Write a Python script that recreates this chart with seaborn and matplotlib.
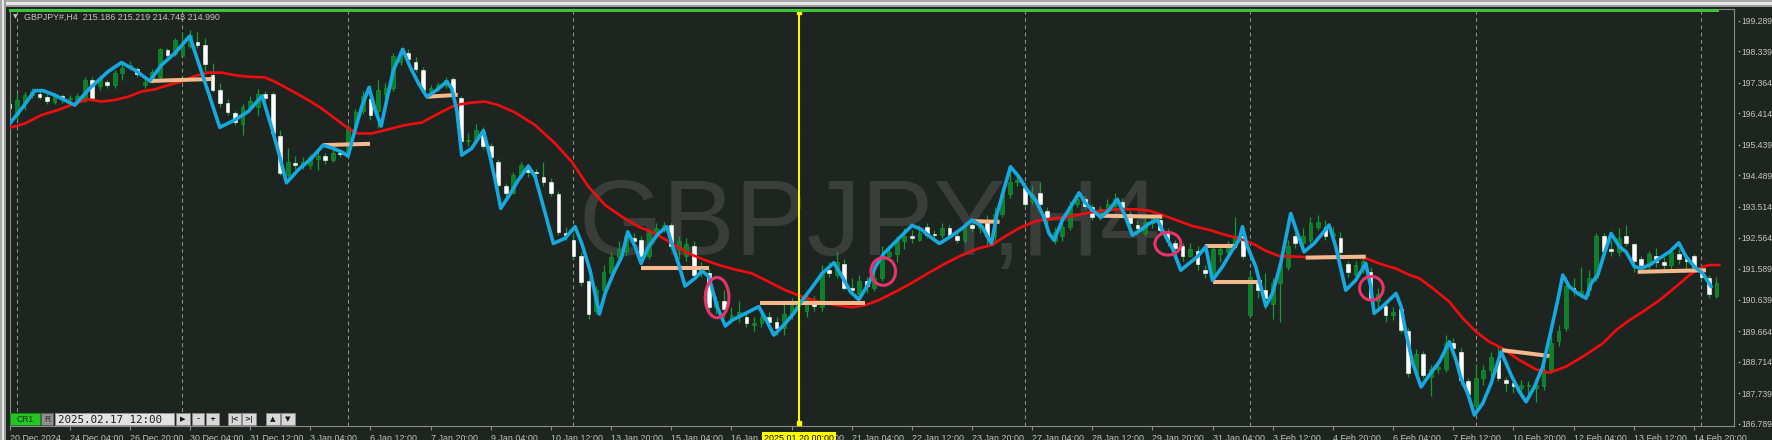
import numpy as np
import matplotlib
matplotlib.use("Agg")
import matplotlib.pyplot as plt
import matplotlib.transforms as mtransforms
from matplotlib.patches import Ellipse, Rectangle
import seaborn as sns

# ---------------- data ----------------
open_ = [196.70, 196.36, 196.75, 196.98, 197.00, 196.92, 196.78, 196.95, 196.85, 196.80,
         196.83, 197.45, 197.25, 197.38, 197.28, 197.66, 197.85, 197.78, 197.30, 197.45,
         197.55, 198.38, 198.25, 198.20, 198.50, 198.62, 198.52, 197.60, 197.14, 196.75,
         196.42, 196.10, 196.60, 196.62, 197.00, 197.00, 195.70, 194.50, 194.87, 194.82,
         194.80, 195.00, 195.10, 194.97, 195.20, 195.22, 196.00, 196.50, 196.85, 196.50,
         197.00, 197.20, 198.00, 198.30, 198.00, 197.75, 197.10, 197.20, 197.28, 197.48,
         196.88, 195.55, 195.60, 195.85, 195.40, 194.90, 194.15, 193.95, 194.50, 194.75,
         194.60, 194.45, 194.30, 193.90, 192.70, 192.50, 192.00, 191.20, 190.30, 190.95,
         191.45, 191.95, 192.15, 192.55, 192.50, 192.00, 192.70, 192.85, 192.95, 192.20,
         192.00, 192.30, 191.50, 191.45, 190.40, 190.60, 190.00, 190.15, 190.10, 189.85,
         189.90, 190.10, 189.95, 189.75, 190.20, 190.55, 190.30, 190.60, 190.40, 191.55,
         191.40, 191.75, 191.00, 190.80, 191.20, 191.00, 191.30, 192.00, 192.05, 192.45,
         192.62, 192.50, 192.90, 192.68, 192.65, 192.85, 192.60, 192.50, 192.95, 192.85,
         193.00, 192.60, 193.30, 193.90, 194.30, 194.10, 193.70, 193.95, 193.40, 192.45,
         192.60, 192.90, 193.60, 193.75, 193.50, 193.20, 193.40, 193.55, 193.65, 193.30,
         192.95, 192.70, 193.00, 193.10, 192.75, 192.40, 192.30, 192.00, 192.15, 191.55,
         191.30, 192.05, 192.10, 192.30, 192.60, 190.15, 191.20, 190.95, 190.50, 191.15,
         191.65, 192.60, 192.40, 192.50, 192.90, 192.90, 192.60, 192.55, 191.75, 191.40,
         191.60, 191.50, 190.60, 190.45, 190.15, 190.35, 189.65, 188.35, 188.95, 188.25,
         188.50, 188.50, 189.30, 189.00, 188.10, 187.35, 188.20, 188.45, 188.75, 188.15,
         188.05, 187.90, 187.95, 187.90, 187.95, 188.45, 189.35, 189.75, 191.00, 190.80,
         190.95, 191.30, 192.60, 192.20, 192.10, 192.60, 192.35, 191.90, 191.70, 192.00,
         191.80, 191.70, 192.05, 191.90, 192.00, 191.60, 191.30, 190.75]
high = [196.85, 197.05, 197.09, 197.20, 197.10, 197.00, 197.05, 197.00, 196.98, 197.05,
        197.55, 197.55, 197.60, 197.45, 197.75, 198.02, 198.05, 197.85, 197.50, 197.80,
        198.45, 198.45, 198.75, 198.95, 199.00, 198.95, 198.75, 197.97, 197.35, 196.85,
        196.50, 196.72, 196.95, 197.18, 197.10, 197.07, 195.90, 195.33, 195.10, 195.05,
        195.15, 195.25, 195.20, 195.35, 195.30, 196.10, 196.55, 197.10, 197.30, 197.45,
        197.35, 198.30, 198.45, 198.40, 198.15, 197.85, 197.30, 197.40, 197.55, 197.55,
        196.95, 195.80, 196.10, 196.00, 195.50, 195.00, 194.25, 194.60, 194.90, 194.85,
        194.70, 194.90, 194.40, 194.00, 192.90, 192.70, 192.10, 191.30, 191.05, 191.70,
        192.10, 192.45, 192.75, 192.70, 192.60, 192.80, 193.00, 193.05, 193.00, 192.60,
        192.55, 192.45, 191.80, 191.60, 190.75, 190.95, 190.40, 190.60, 190.20, 190.10,
        190.20, 190.25, 190.10, 190.50, 190.70, 190.75, 190.85, 190.75, 191.70, 191.80,
        192.10, 191.90, 191.30, 191.40, 191.35, 191.55, 192.30, 192.30, 192.60, 192.85,
        192.80, 192.95, 193.00, 192.80, 193.00, 192.95, 192.75, 193.05, 193.05, 193.15,
        193.25, 193.50, 194.10, 194.75, 194.60, 194.30, 194.20, 194.30, 193.50, 192.90,
        193.05, 193.70, 193.95, 193.85, 193.60, 193.55, 193.75, 193.95, 193.80, 193.40,
        193.10, 193.20, 193.30, 193.20, 192.85, 192.50, 192.40, 192.40, 192.30, 191.70,
        192.30, 192.35, 192.45, 193.20, 192.95, 191.50, 191.35, 191.45, 191.30, 191.85,
        192.50, 192.70, 192.85, 193.20, 193.25, 193.10, 192.90, 192.75, 191.85, 191.85,
        191.95, 191.65, 191.00, 190.60, 190.40, 190.45, 189.75, 189.10, 189.05, 188.60,
        188.65, 189.55, 189.45, 189.15, 188.20, 188.65, 188.60, 189.00, 189.20, 188.25,
        188.15, 188.15, 188.10, 188.25, 188.75, 189.50, 189.85, 191.35, 191.30, 191.65,
        191.55, 192.70, 192.70, 192.50, 192.85, 192.95, 192.40, 192.00, 192.15, 192.25,
        191.95, 192.20, 192.20, 192.00, 192.05, 191.70, 191.40, 191.35]
low = [196.50, 196.20, 196.52, 196.90, 196.85, 196.70, 196.70, 196.75, 196.75, 196.72,
       196.78, 196.85, 197.15, 197.20, 197.20, 197.45, 197.75, 197.55, 197.20, 197.35,
       197.45, 198.15, 198.20, 198.18, 198.45, 198.45, 197.65, 197.08, 196.60, 196.35,
       196.05, 195.75, 196.50, 196.37, 196.80, 195.75, 194.50, 194.45, 194.70, 194.70,
       194.70, 194.65, 194.85, 194.90, 195.05, 195.15, 195.90, 196.40, 196.20, 195.95,
       196.90, 197.10, 197.90, 197.95, 197.70, 197.05, 197.00, 197.10, 197.20, 196.95,
       195.45, 195.40, 195.50, 195.30, 194.95, 194.10, 193.80, 193.90, 194.40, 194.45,
       194.35, 194.15, 193.85, 192.65, 192.50, 191.90, 191.05, 190.05, 190.20, 190.85,
       191.35, 191.85, 192.00, 192.30, 191.90, 191.90, 192.60, 192.75, 192.20, 191.90,
       191.85, 191.30, 191.35, 190.30, 190.20, 190.10, 189.90, 189.95, 189.80, 189.65,
       189.80, 189.85, 189.55, 189.55, 190.05, 190.30, 190.10, 190.30, 190.30, 191.35,
       191.30, 190.95, 190.80, 190.70, 190.85, 190.90, 191.20, 191.85, 191.80, 192.20,
       192.40, 192.45, 192.55, 192.50, 192.55, 192.55, 192.40, 192.40, 192.75, 192.70,
       192.30, 192.45, 193.20, 193.80, 194.15, 193.50, 193.60, 193.45, 192.90, 192.35,
       192.45, 192.80, 193.50, 193.45, 193.10, 193.10, 193.30, 193.45, 193.40, 192.90,
       192.65, 192.60, 192.85, 192.65, 192.30, 192.00, 191.85, 191.95, 191.55, 191.30,
       191.20, 191.80, 192.00, 192.20, 191.90, 190.10, 190.70, 190.35, 190.05, 189.95,
       191.55, 192.25, 192.30, 192.40, 192.80, 192.50, 192.45, 191.95, 191.35, 191.25,
       191.45, 190.50, 190.40, 189.95, 190.00, 189.60, 188.25, 188.20, 188.20, 187.65,
       188.35, 188.40, 188.90, 188.00, 187.50, 187.10, 188.00, 188.25, 188.10, 187.80,
       187.75, 187.75, 187.70, 187.45, 187.85, 188.35, 189.20, 189.65, 190.75, 190.70,
       190.75, 191.20, 192.00, 192.00, 192.00, 192.30, 191.50, 191.55, 191.60, 191.65,
       191.55, 191.55, 191.75, 191.60, 191.50, 191.20, 190.70, 190.70]
close = [196.58, 196.83, 196.98, 197.10, 196.92, 196.80, 196.98, 196.85, 196.90, 196.95,
         197.45, 196.90, 197.50, 197.28, 197.68, 197.81, 197.90, 197.65, 197.40, 197.70,
         198.40, 198.22, 198.68, 198.50, 198.85, 198.55, 197.96, 197.14, 196.73, 196.47,
         196.16, 196.62, 196.80, 197.03, 196.90, 195.80, 194.55, 194.90, 194.82, 194.92,
         195.05, 195.10, 194.98, 195.20, 195.15, 196.00, 196.45, 196.95, 196.35, 197.15,
         197.20, 198.20, 198.35, 198.10, 197.80, 197.15, 197.20, 197.30, 197.45, 197.05,
         195.55, 195.60, 195.90, 195.40, 195.05, 194.20, 193.95, 194.50, 194.80, 194.60,
         194.55, 194.30, 193.95, 192.75, 192.65, 192.00, 191.18, 190.20, 190.95, 191.50,
         191.95, 192.20, 192.60, 192.45, 192.00, 192.70, 192.85, 192.95, 192.30, 192.45,
         192.35, 191.40, 191.60, 190.42, 190.60, 190.35, 190.15, 190.25, 189.90, 189.90,
         190.10, 189.95, 189.75, 190.20, 190.55, 190.60, 190.70, 190.45, 191.50, 191.45,
         191.80, 191.00, 190.95, 191.20, 191.05, 191.30, 192.00, 192.10, 192.50, 192.60,
         192.55, 192.70, 192.65, 192.65, 192.85, 192.65, 192.50, 192.90, 192.85, 193.00,
         192.62, 193.30, 193.90, 194.30, 194.35, 193.60, 193.90, 193.60, 193.20, 192.75,
         192.90, 193.55, 193.75, 193.55, 193.20, 193.45, 193.60, 193.75, 193.50, 193.00,
         192.85, 193.05, 193.20, 192.80, 192.45, 192.25, 192.00, 192.20, 191.75, 191.45,
         192.20, 192.20, 192.30, 192.60, 192.00, 191.35, 190.95, 190.70, 191.15, 191.70,
         192.30, 192.40, 192.60, 193.00, 193.05, 192.60, 192.70, 192.10, 191.50, 191.70,
         191.85, 190.65, 190.80, 190.15, 190.25, 189.70, 188.35, 188.95, 188.30, 188.50,
         188.55, 189.30, 189.15, 188.15, 187.70, 188.20, 188.45, 188.85, 188.20, 188.05,
         187.95, 188.00, 187.97, 188.00, 188.45, 189.30, 189.65, 191.05, 190.95, 190.90,
         191.30, 192.60, 192.15, 192.15, 192.55, 192.40, 191.85, 191.70, 192.05, 191.80,
         191.70, 192.10, 191.90, 191.85, 191.65, 191.35, 190.80, 191.15]

# blue line (vertex bar positions / prices)
blue_x = [0.04, 1.81, 3.36, 4.47, 6.02, 7.13, 8.68, 10.67, 13.11, 14.88, 16.66, 18.65, 20.2, 21.98,
          23.97, 25.3, 26.63, 27.96, 29.96, 31.73, 33.59, 34.83, 35.94, 36.83, 38.38, 40.15, 41.7,
          43.03, 44.14, 45.03, 45.7, 46.84, 47.82, 48.62, 49.42, 50.17, 51.06, 52.3, 53.27, 54.38,
          55.49, 56.82, 58.15, 58.81, 59.48, 60.14, 61.47, 63.02, 63.91, 64.58, 65.33, 66.35, 67.68,
          69.0, 69.9, 71.0, 72.33, 73.88, 75.21, 76.1, 77.2, 78.45, 79.2, 80.31, 81.42, 82.22, 83.2,
          83.99, 84.97, 86.3, 87.4, 88.07, 88.95, 89.84, 91.17, 92.1, 92.99, 94.1, 95.2, 96.09, 97.87,
          99.64, 100.75, 101.64, 102.97, 104.3, 105.41, 106.51, 108.07, 109.62, 110.73, 111.84,
          112.94, 114.27, 115.16, 116.27, 117.6, 118.93, 120.03, 121.36, 122.69, 123.67, 125.13,
          126.68, 128.01, 129.34, 130.58, 131.34, 132.22, 133.11, 134.22, 135.33, 136.43, 137.54,
          138.24, 138.91, 140.02, 141.13, 142.24, 143.12, 144.01, 145.12, 146.23, 147.33, 148.22,
          149.33, 150.44, 151.55, 152.65, 153.54, 154.65, 155.76, 156.87, 157.97, 159.08, 159.97,
          161.3, 162.63, 163.52, 163.96, 164.62, 165.73, 167.06, 167.95, 169.05, 170.38, 171.27,
          172.16, 173.49, 174.6, 175.48, 176.37, 177.7, 179.03, 180.36, 181.03, 181.47, 182.8,
          184.39, 185.06, 185.72, 186.61, 187.72, 188.82, 190.15, 191.48, 192.37, 193.03, 193.92,
          194.81, 195.92, 197.03, 198.36, 199.69, 200.8, 201.68, 202.79, 203.9, 205.01, 205.89,
          206.56, 207.44, 208.55, 209.66, 210.33, 211.21, 212.1, 212.99, 214.09, 214.98, 216.09,
          216.98, 218.09, 219.42, 220.75, 221.99, 222.96, 224.07, 225.18, 226.29]
blue_y = [196.10, 196.62, 197.12, 197.12, 196.98, 196.85, 196.67, 197.19, 197.71, 197.99, 197.76,
          197.42, 197.91, 198.28, 198.81, 197.86, 196.93, 195.98, 196.21, 196.47, 196.95, 196.00,
          195.07, 194.26, 194.66, 195.02, 195.43, 195.33, 195.22, 195.09, 195.69, 196.62, 197.22,
          196.52, 196.02, 196.83, 197.76, 198.40, 197.86, 197.35, 196.93, 197.14, 197.40, 197.19,
          196.52, 195.12, 195.33, 195.88, 195.07, 194.35, 193.47, 193.83, 194.35, 194.78, 194.45,
          193.52, 192.38, 192.54, 192.90, 192.38, 191.55, 190.19, 190.83, 191.45, 191.97, 192.74,
          192.28, 191.76, 192.28, 192.69, 192.90, 192.38, 191.76, 191.06, 191.30, 191.53, 191.35,
          190.42, 189.82, 190.00, 190.21, 190.42, 189.95, 189.54, 189.85, 190.21, 190.62, 190.95,
          191.45, 191.78, 191.35, 190.88, 190.64, 191.14, 191.66, 192.07, 192.38, 192.69, 192.94,
          192.80, 192.54, 192.38, 192.59, 192.85, 193.11, 192.90, 192.38, 193.31, 194.04, 194.76,
          194.45, 194.04, 193.73, 193.21, 192.69, 192.48, 193.11, 193.52, 193.95, 193.62, 193.42,
          193.19, 193.42, 193.75, 193.31, 192.64, 192.80, 193.00, 193.11, 192.69, 192.23, 191.55,
          191.76, 191.97, 192.28, 191.24, 191.66, 192.18, 192.49, 192.90, 192.28, 191.66, 190.44,
          190.83, 191.76, 193.31, 192.69, 192.12, 192.38, 192.69, 192.95, 192.28, 190.93, 191.24,
          191.76, 191.04, 190.21, 190.47, 190.83, 190.42, 189.59, 188.66, 187.93, 188.30, 188.71,
          189.33, 188.76, 188.19, 187.73, 187.06, 187.42, 188.04, 189.02, 188.30, 187.78, 187.47,
          187.93, 188.56, 189.69, 190.62, 191.40, 191.04, 190.83, 190.68, 191.14, 191.40, 192.07,
          192.69, 192.28, 192.12, 191.66, 191.61, 191.71, 191.92, 192.12, 192.40, 191.97, 191.66,
          191.45, 191.04]

# red moving average line
red_x = [-0.19, 2.03, 4.25, 6.46, 8.68, 10.45, 12.23, 14.0, 15.77, 17.54, 19.32, 21.09, 22.86,
         24.64, 26.41, 28.18, 29.96, 31.73, 33.95, 35.27, 37.49, 39.71, 41.48, 43.26, 45.03, 46.36,
         48.18, 50.39, 52.61, 54.83, 57.04, 59.26, 61.47, 63.25, 65.02, 67.24, 69.9, 72.56, 74.78,
         76.99, 79.21, 81.43, 83.65, 85.86, 88.08, 90.3, 92.3, 94.32, 96.53, 98.75, 100.97, 103.18,
         105.4, 107.61, 109.83, 112.05, 113.82, 115.59, 117.81, 120.03, 122.24, 124.46, 126.68,
         128.89, 130.67, 132.0, 134.22, 136.43, 138.65, 140.91, 143.13, 145.34, 147.56, 149.78,
         151.55, 153.33, 155.1, 157.32, 159.53, 161.75, 163.52, 165.3, 167.07, 168.84, 171.06,
         173.28, 175.94, 178.16, 180.37, 182.15, 183.48, 184.39, 186.16, 187.49, 189.26, 191.48,
         193.26, 195.03, 196.8, 198.58, 200.8, 203.01, 204.78, 207.0, 209.22, 211.88, 213.65,
         215.42, 217.2, 219.42, 221.63, 223.41, 225.18, 226.07, 227.4]
red_y = [195.95, 196.10, 196.36, 196.52, 196.72, 196.85, 196.78, 196.83, 196.93, 197.09, 197.16,
         197.29, 197.40, 197.57, 197.68, 197.68, 197.60, 197.55, 197.53, 197.40, 197.12, 196.83,
         196.57, 196.26, 195.95, 195.79, 195.79, 195.92, 196.05, 196.13, 196.41, 196.67, 196.75,
         196.78, 196.67, 196.44, 196.05, 195.48, 194.91, 194.14, 193.57, 193.21, 192.90, 192.69,
         192.38, 192.07, 191.88, 191.71, 191.57, 191.45, 191.19, 190.93, 190.73, 190.57, 190.47,
         190.40, 190.47, 190.62, 190.88, 191.16, 191.47, 191.76, 192.02, 192.23, 192.33, 192.54,
         192.85, 193.07, 193.15, 193.21, 193.31, 193.40, 193.44, 193.44, 193.40, 193.26, 193.11,
         192.92, 192.80, 192.64, 192.54, 192.38, 192.15, 191.99, 191.97, 191.95, 191.97, 191.97,
         191.92, 191.76, 191.66, 191.60, 191.40, 191.30, 190.99, 190.57, 190.06, 189.64, 189.33,
         189.12, 188.76, 188.47, 188.37, 188.56, 188.87, 189.28, 189.69, 190.00, 190.26, 190.62,
         191.04, 191.40, 191.66, 191.71, 191.71]

# horizontal level segments (start bar, end bar, start price, end price)
level_x0 = [18.65, 41.7, 55.49, 83.99, 99.86, 128.11, 145.12, 158.99, 160.1, 172.38, 198.49, 216.52]
level_x1 = [26.85, 47.95, 59.61, 92.99, 113.83, 131.66, 153.3, 163.3, 166.5, 180.36, 204.78, 225.61]
level_y0 = [197.42, 195.43, 196.93, 191.63, 190.54, 193.07, 193.24, 192.30, 191.19, 191.94, 189.07, 191.50]
level_y1 = [197.48, 195.47, 196.99, 191.63, 190.54, 193.05, 193.21, 192.30, 191.19, 191.97, 188.89, 191.55]

# circled spots (centre bar, centre price, width in bars, height in price)
mark_x = [94.1, 116.19, 154.05, 181.11]
mark_y = [190.70, 191.51, 192.37, 190.99]
mark_w = [3.15, 3.28, 3.46, 3.15]
mark_h = [1.25, 0.86, 0.70, 0.735]

grid_bars = [1, 23, 45, 75, 105, 135, 165, 195, 225]
cursor_bar = 105
cursor_label = "2025.01.20 00:00"

xtick_labels = ["20 Dec 2024", "24 Dec 04:00", "26 Dec 20:00", "30 Dec 04:00", "31 Dec 12:00",
                "3 Jan 04:00", "6 Jan 12:00", "7 Jan 20:00", "9 Jan 04:00", "10 Jan 12:00",
                "13 Jan 20:00", "15 Jan 04:00", "16 Jan 12:00", "17 Jan 20:00", "21 Jan 04:00",
                "22 Jan 12:00", "23 Jan 20:00", "27 Jan 04:00", "28 Jan 12:00", "29 Jan 20:00",
                "31 Jan 04:00", "3 Feb 12:00", "4 Feb 20:00", "6 Feb 04:00", "7 Feb 12:00",
                "10 Feb 20:00", "12 Feb 04:00", "13 Feb 12:00", "14 Feb 20:00"]
ytick_values = [199.289, 198.339, 197.364, 196.414, 195.439, 194.489, 193.514,
                192.564, 191.589, 190.639, 189.664, 188.714, 187.739, 186.789]
header_text = "GBPJPY#,H4  215.186 215.219 214.748 214.990"
watermark = "GBPJPY,H4"
date_field = "2025.02.17 12:00"

# ---------------- style ----------------
BG = "#1e2420"
TXT = "#c4c4c4"
FRAME = "#8a8a8a"
BLUE = "#17a8e0"
RED = "#f00d0d"
PEACH = "#f4b98c"
PINK = "#e8336c"
YELLOW = "#ffff00"
WICK = "#139a30"
BULL = "#0e7f2a"
BEAR = "#ffffff"

sns.set_style("dark", {"axes.facecolor": BG, "figure.facecolor": BG})
plt.rcParams["font.family"] = ["Liberation Sans", "DejaVu Sans"]

W, H = 1772, 440
L, R, T, B = 9.5, 1734.3, 9.5, 426.0
fig = plt.figure(figsize=(W / 100, H / 100), dpi=100, facecolor=BG)
ax = fig.add_axes([L / W, 1 - B / H, (R - L) / W, (B - T) / H])
ax.set_facecolor(BG)
ax.set_xlim(0.0, 229.37)
ax.set_ylim(186.718, 199.636)

# watermark
ax.text(578 / W, 1 - 255 / H, watermark, transform=fig.transFigure, fontsize=78,
        color="#393e3b", ha="left", va="baseline", zorder=0.5,
        family=["Liberation Sans", "DejaVu Sans"])

# vertical dashed grid
for g in grid_bars:
    ax.axvline(g, color="#8c8c8c", lw=0.8, ls=(0, (3.5, 3)), zorder=1)

# candles
o = np.array(open_); h = np.array(high); lo = np.array(low); c = np.array(close)
idx = np.arange(len(o))
bull = c >= o
ax.vlines(idx, lo, h, color=WICK, lw=0.9, zorder=2)
bb = np.minimum(o, c)
bh = np.maximum(np.abs(c - o), 0.035)
ax.bar(idx[bull], bh[bull], bottom=bb[bull], width=0.5, color=BULL,
       edgecolor="#16a035", linewidth=0.4, zorder=2.5)
ax.bar(idx[~bull], bh[~bull], bottom=bb[~bull], width=0.5, color=BEAR,
       edgecolor=BEAR, linewidth=0.4, zorder=2.5)

# moving average and fast line
sns.lineplot(x=red_x, y=red_y, ax=ax, color=RED, linewidth=1.9, estimator=None,
             sort=False, zorder=3)
for x0, x1, y0, y1 in zip(level_x0, level_x1, level_y0, level_y1):
    ax.plot([x0, x1], [y0, y1], color=PEACH, lw=2.9, solid_capstyle="butt", zorder=4)
sns.lineplot(x=blue_x, y=blue_y, ax=ax, color=BLUE, linewidth=2.6, estimator=None,
             sort=False, zorder=5)
ax.lines[-1].set_solid_joinstyle("round")

for mx, my, mw, mh in zip(mark_x, mark_y, mark_w, mark_h):
    ax.add_patch(Ellipse((mx, my), mw, mh, fill=False, ec=PINK, lw=2.2, zorder=6))

# cursor line
ax.axvline(cursor_bar, color=YELLOW, lw=1.4, zorder=7)
blend = mtransforms.blended_transform_factory(ax.transData, ax.transAxes)
ax.plot([cursor_bar, cursor_bar], [0.0065, 0.9947], transform=blend, ls="none",
        marker="s", ms=3.2, color=YELLOW, zorder=7, clip_on=False)
ax.text(cursor_bar, -0.0185, cursor_label, transform=blend, ha="center", va="top",
        fontsize=6.4, color="black", zorder=30, clip_on=False,
        bbox=dict(boxstyle="square,pad=0.18", fc=YELLOW, ec="none"))

# axes styling
for s in ax.spines.values():
    s.set_color(FRAME)
    s.set_linewidth(0.8)
ax.grid(False)
ax.set_xticks(np.arange(len(xtick_labels)) * 8)
ax.set_xticklabels(xtick_labels)
for lab in ax.get_xticklabels():
    lab.set_ha("left")
ax.tick_params(axis="x", bottom=True, length=3, width=0.8, color=FRAME, pad=2.4,
               labelsize=6.4, labelcolor=TXT)
ax.yaxis.tick_right()
ax.set_yticks(ytick_values)
ax.set_yticklabels([f"{v:.3f}" for v in ytick_values])
ax.tick_params(axis="y", right=True, left=False, length=0, pad=5.2, labelsize=6.2,
               labelcolor=TXT)
yblend = mtransforms.blended_transform_factory(ax.transAxes, ax.transData)
ax.scatter(np.full(len(ytick_values), 1.0029), ytick_values, transform=yblend, s=1.2,
           color=TXT, clip_on=False, zorder=8, linewidths=0)
ax.set_xlabel("")
ax.set_ylabel("")

# ---------------- window chrome overlay ----------------
ov = fig.add_axes([0, 0, 1, 1], zorder=20)
ov.set_xlim(0, W)
ov.set_ylim(H, 0)
ov.axis("off")
ov.patch.set_alpha(0)

ov.add_patch(Rectangle((0, 0), W, 2.5, fc="#a9a9a9", ec="none"))
ov.add_patch(Rectangle((0, 2.5), W, 2.5, fc="#e6e6e6", ec="none"))
ov.add_patch(Rectangle((0, 5), W, 2, fc="#9c9c9c", ec="none"))
ov.add_patch(Rectangle((0, 0), 2, H, fc="#a9a9a9", ec="none"))
ov.add_patch(Rectangle((2, 0), 2, H, fc="#e6e6e6", ec="none"))
ov.add_patch(Rectangle((4, 0), 2, H, fc="#9c9c9c", ec="none"))
ov.add_patch(Rectangle((L, 9.5), 1719 - L, 2.8, fc="#3cc43c", ec="none"))

ov.text(15.3, 17.0, "\u25bc", fontsize=4.5, color=TXT, ha="center", va="center",
        family=["DejaVu Sans"])
ov.text(24, 20.0, header_text, fontsize=6.4, color=TXT, ha="left", va="baseline")

# bottom-left controls
ov.add_patch(Rectangle((9.8, 413), 30, 12.5, fc="#26c326", ec="#178a17", lw=0.6))
ov.text(24.8, 419.4, "CR1", fontsize=6.2, color="#0b3a0b", ha="center", va="center")
ov.add_patch(Rectangle((41, 413), 12.5, 12.5, fc="#8f8f8f", ec="#5c5c5c", lw=0.6))
ov.text(47.2, 419.4, "R", fontsize=6.2, color="#2a2a2a", ha="center", va="center")
ov.add_patch(Rectangle((55.5, 413), 118.5, 12.5, fc="#e2e2e2", ec="#9a9a9a", lw=0.6))
ov.text(58, 419.6, date_field, fontsize=7.8, color="#1c1c1c", ha="left", va="center",
        family=["DejaVu Sans Mono"])
buttons = [(176, 190, "\u25b6"), (192, 204, "-"), (206, 219, "+"), (228, 241, "|<"),
           (242, 256, ">|"), (266, 280, "\u25b2"), (281, 295, "\u25bc")]
for bx0, bx1, lab in buttons:
    ov.add_patch(Rectangle((bx0, 413), bx1 - bx0, 12.5, fc="#d8d8d8", ec="#8c8c8c", lw=0.6))
    ov.text((bx0 + bx1) / 2, 419.4, lab, fontsize=5.2, color="#1a1a1a", ha="center",
            va="center", family=["DejaVu Sans"], fontweight="bold")

fig.savefig("out.png", dpi=100, facecolor=BG)
